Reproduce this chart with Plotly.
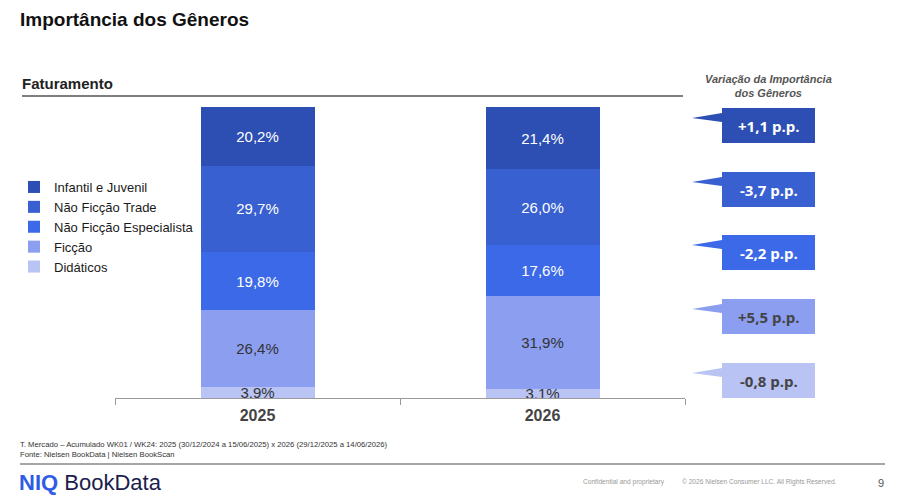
import plotly.graph_objects as go

# %%
# dados lidos do slide (participação no faturamento, %)
anos = ["2025", "2026"]
generos = ["Didáticos", "Ficção", "Não Ficção Especialista", "Não Ficção Trade", "Infantil e Juvenil"]
didaticos = [3.9, 3.1]
ficcao = [26.4, 31.9]
nf_especialista = [19.8, 17.6]
nf_trade = [29.7, 26.0]
infantil = [20.2, 21.4]

# variação em p.p. (mesma ordem dos gêneros, de baixo pra cima)
variacao = [-0.8, 5.5, -2.2, -3.7, 1.1]

cores = ["#b9c3f4", "#8b9ef0", "#3b69e7", "#3860d0", "#2d4fb4"]
cor_texto = ["#333333", "#333333", "white", "white", "white"]

W, H = 900, 496
OFF = 8  # a pagina desloca o grafico uns 8px (margem do body)

# helpers pra passar pixel (da tela) -> paper
def px(x):
    return (x - OFF) / W

def py(y):
    return 1 - (y - OFF) / H

# %%
fig = go.Figure()

series = [didaticos, ficcao, nf_especialista, nf_trade, infantil]
for i in range(len(generos)):
    fig.add_trace(go.Bar(
        x=anos, y=series[i], name=generos[i],
        marker=dict(color=cores[i], line=dict(width=0)),
        texttemplate="%{y:.1f}%",
        textposition="inside",
        insidetextanchor="middle",
        textfont=dict(size=15, color=cor_texto[i], family="Liberation Sans, Arial"),
    ))

fig.update_layout(
    width=W, height=H,
    autosize=False,
    margin=dict(l=0, r=0, t=0, b=0),
    paper_bgcolor="white", plot_bgcolor="white",
    barmode="stack", bargap=0.6,
    separators=",.",
    uniformtext=dict(minsize=15, mode="show"),
    font=dict(family="Liberation Sans, Arial", color="#222"),
    legend=dict(
        x=px(14), y=py(172), xanchor="left", yanchor="top",
        traceorder="reversed",
        font=dict(size=13, color="#1a1a1a"),
        bgcolor="rgba(0,0,0,0)",
        itemclick=False,
    ),
    showlegend=True,
)

# eixo x com ticks nas bordas das categorias
fig.update_xaxes(
    domain=[px(115), px(685)],
    type="category",
    showline=True, linecolor="#9a9a9a", linewidth=1,
    ticks="outside", ticklen=6, tickcolor="#9a9a9a",
    tickson="boundaries",
    ticklabelstandoff=3,
    tickfont=dict(size=16, color="#444", weight="bold"),
    showgrid=False, zeroline=False,
)
fig.update_yaxes(
    domain=[py(398), py(107)],
    range=[0, 100],
    visible=False,
)

# %%
# titulos e cabeçalhos
fig.add_annotation(x=px(18), y=py(20), xref="paper", yref="paper",
                   text="<b>Importância dos Gêneros</b>", showarrow=False,
                   xanchor="left", yanchor="middle",
                   font=dict(size=19, color="#111"))
fig.add_annotation(x=px(20), y=py(83), xref="paper", yref="paper",
                   text="<b>Faturamento</b>", showarrow=False,
                   xanchor="left", yanchor="middle",
                   font=dict(size=15, color="#222"))
fig.add_shape(type="line", xref="paper", yref="paper",
              x0=px(22), x1=px(683), y0=py(96), y1=py(96),
              line=dict(color="#555", width=1.5))
fig.add_annotation(x=px(768), y=py(86), xref="paper", yref="paper",
                   text="<b><i>Variação da Importância<br>dos Gêneros</i></b>",
                   showarrow=False, xanchor="center", yanchor="middle",
                   font=dict(size=11, color="#555"))

# %%
# caixas de variação (callouts), de cima pra baixo
topos = [108, 172, 235, 299, 363]
for k in range(len(generos)):
    i = len(generos) - 1 - k  # infantil primeiro
    t = topos[k]
    b = t + 35
    l, r = 722, 815
    tip = t + 10
    caminho = (f"M {px(692)},{py(tip)} L {px(l)},{py(t + 5)} L {px(l)},{py(t)} "
               f"L {px(r)},{py(t)} L {px(r)},{py(b)} L {px(l)},{py(b)} "
               f"L {px(l)},{py(t + 14)} Z")
    fig.add_shape(type="path", xref="paper", yref="paper", path=caminho,
                  fillcolor=cores[i], line=dict(width=0))
    rotulo = f"{variacao[i]:+.1f}".replace(".", ",") + " p.p."
    fig.add_annotation(x=px((l + r) / 2), y=py(t + 17.5), xref="paper", yref="paper",
                       text=f"<b>{rotulo}</b>", showarrow=False,
                       xanchor="center", yanchor="middle",
                       font=dict(size=15, color="white" if cor_texto[i] == "white" else "#444",
                                 family="Open Sans"))

# %%
# rodapé
fig.add_annotation(x=px(18), y=py(449), xref="paper", yref="paper",
                   text="T. Mercado – Acumulado WK01 / WK24: 2025 (30/12/2024 a 15/06/2025) x 2026 (29/12/2025 a 14/06/2026)<br>Fonte: Nielsen BookData | Nielsen BookScan",
                   showarrow=False, xanchor="left", yanchor="middle", align="left",
                   font=dict(size=7.7, color="#333"))
fig.add_shape(type="line", xref="paper", yref="paper",
              x0=px(20), x1=px(885), y0=py(464), y1=py(464),
              line=dict(color="#888", width=1.5))
fig.add_annotation(x=px(17), y=py(482), xref="paper", yref="paper",
                   text='<span style="color:#2f5ce6"><b>NIQ</b></span> <span style="color:#1c1d4e">BookData</span>',
                   showarrow=False, xanchor="left", yanchor="middle",
                   font=dict(size=22))
fig.add_annotation(x=px(581), y=py(482), xref="paper", yref="paper",
                   text="Confidential and proprietary", showarrow=False,
                   xanchor="left", yanchor="middle", font=dict(size=6.6, color="#999"))
fig.add_annotation(x=px(680), y=py(482), xref="paper", yref="paper",
                   text="© 2026 Nielsen Consumer LLC. All Rights Reserved.", showarrow=False,
                   xanchor="left", yanchor="middle", font=dict(size=6.6, color="#999"))
fig.add_annotation(x=px(886), y=py(483), xref="paper", yref="paper",
                   text="9", showarrow=False,
                   xanchor="right", yanchor="middle", font=dict(size=11, color="#555"))

fig.write_html("out.html")
print("grafico hecho")
